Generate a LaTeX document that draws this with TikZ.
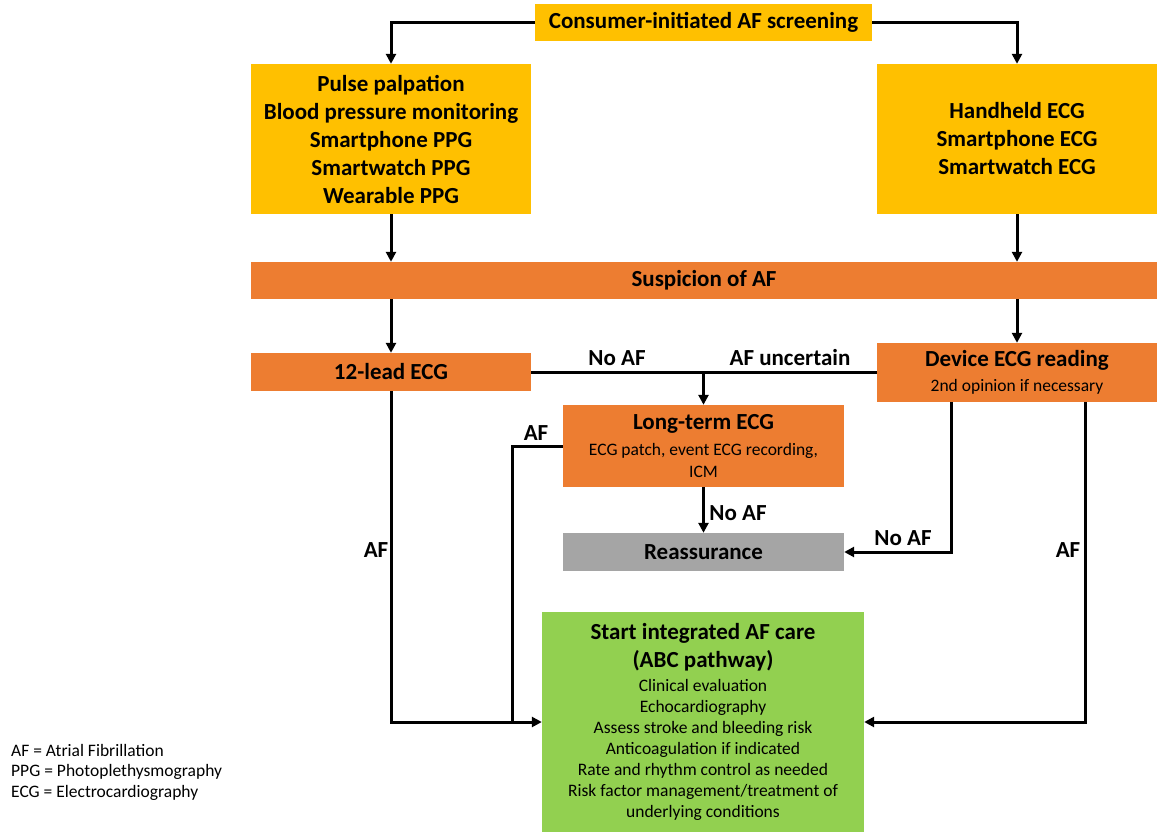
\documentclass[tikz,border=0pt]{standalone}
\usepackage{fontspec}
\setmainfont{Carlito}
\usetikzlibrary{arrows.meta}
\definecolor{ylw}{HTML}{FFC000}
\definecolor{org}{HTML}{ED7D31}
\definecolor{gry}{HTML}{A5A5A5}
\definecolor{grn}{HTML}{92D050}
\newcommand{\smtext}{\mdseries\fontsize{17.5}{21}\selectfont}
\begin{document}
\begin{tikzpicture}[x=1pt,y=-1pt,
 box/.style={draw=none,inner sep=0pt,align=center,font=\bfseries\fontsize{23}{28}\selectfont},
 arr/.style={line width=3pt,-{Triangle[length=10pt,width=10pt]}},
 ln/.style={line width=3pt},
 lbl/.style={font=\bfseries\fontsize{23}{24}\selectfont, inner sep=0pt},
 leg/.style={font=\fontsize{17.5}{21}\selectfont, inner sep=0pt, anchor=west}]
\useasboundingbox (0,0) rectangle (1157,832);
\node[box, fill=ylw, minimum width=337, minimum height=37] (top) at (703.5,22.5) {Consumer-initiated AF screening};
\node[box, fill=ylw, minimum width=280, minimum height=150] (left) at (391,139) {Pulse palpation\\Blood pressure monitoring\\Smartphone PPG\\Smartwatch PPG\\Wearable PPG};
\node[box, fill=ylw, minimum width=280, minimum height=150] (right) at (1017,139) {Handheld ECG\\Smartphone ECG\\Smartwatch ECG};
\node[box, fill=org, minimum width=906, minimum height=37] (susp) at (704,280.5) {Suspicion of AF};
\node[box, fill=org, minimum width=280, minimum height=38] (lead) at (391,372) {12-lead ECG};
\node[box, fill=org, minimum width=280, minimum height=59] (dev) at (1017,372.5) {Device ECG reading\\[-3pt]{\smtext 2nd opinion if necessary}};
\node[box, fill=org, minimum width=281, minimum height=82] (long) at (703.5,446) {Long-term ECG\\[-2pt]{\smtext ECG patch, event ECG recording,}\\[-6pt]{\smtext ICM}};
\node[box, fill=gry, minimum width=281, minimum height=38] (reass) at (703.5,552) {Reassurance};
\node[box, fill=grn, minimum width=322, minimum height=220] (care) at (703,722) {Start integrated AF care\\(ABC pathway)\\[-4pt]
{\smtext Clinical evaluation}\\[-7pt]{\smtext Echocardiography}\\[-7pt]{\smtext Assess stroke and bleeding risk}\\[-7pt]{\smtext Anticoagulation if indicated}\\[-7pt]{\smtext Rate and rhythm control as needed}\\[-7pt]{\smtext Risk factor management/treatment of}\\[-7pt]{\smtext underlying conditions}};
% connectors
\draw[arr] (top.west) -| (left.north);
\draw[arr] (top.east) -| (right.north);
\draw[arr] (left.south) -- (left.south |- susp.north);
\draw[arr] (right.south) -- (right.south |- susp.north);
\draw[arr] (left.south |- susp.south) -- (lead.north);
\draw[arr] (right.south |- susp.south) -- (dev.north);
\draw[ln] (lead.east) -- (lead.east -| dev.west);
\coordinate (split) at (lead.east -| long.north);
\draw[arr] (split) -- (long.north);
\draw[arr] (long.south) -- (reass.north);
\coordinate (join) at (512,0);
\draw[ln] (long.west) -| (join |- care.west);
\draw[arr] (lead.south) |- (care.west);
\draw[arr] ([xshift=-66pt]dev.south) |- (reass.east);
\draw[arr] ([xshift=68pt]dev.south) |- (care.east);
% labels
\node[lbl] (l1) at (617,358) {No AF};
\node[lbl] (l2) at (790,358) {AF uncertain};
\node[lbl] (l3) at (536,433) {AF};
\node[lbl] (l4) at (738,513) {No AF};
\node[lbl] (l5) at (903,538) {No AF};
\node[lbl] (l6) at (376,550) {AF};
\node[lbl] (l7) at (1068,550) {AF};
% legend
\node[leg] (g1) at (11,750) {AF = Atrial Fibrillation};
\node[leg] (g2) at (11,772) {PPG = Photoplethysmography};
\node[leg] (g3) at (11,793) {ECG = Electrocardiography};
\end{tikzpicture}
\end{document}
